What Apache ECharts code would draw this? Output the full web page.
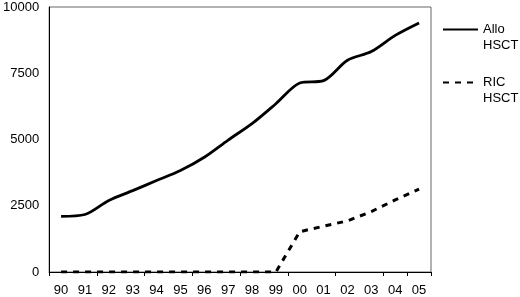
<!DOCTYPE html>
<html>
<head>
<meta charset="utf-8">
<script src="https://cdn.jsdelivr.net/npm/echarts@6/dist/echarts.min.js"></script>
<style>
  html, body { margin: 0; padding: 0; background: #fff; }
  #chart { width: 520px; height: 297px; }
</style>
</head>
<body>
<div id="chart"></div>
<script>
// years on the x axis
const years = ["90", "91", "92", "93", "94", "95", "96", "97", "98", "99", "00", "01", "02", "03", "04", "05"];
// cumulative transplants
const alloHsct = [2100, 2170, 2700, 3070, 3450, 3830, 4330, 4980, 5600, 6350, 7130, 7220, 7990, 8320, 8930, 9400];
const ricHsct = [0, 0, 0, 0, 0, 0, 0, 0, 0, 0, 1520, 1730, 1930, 2280, 2720, 3130];
const yTicks = [0, 2500, 5000, 7500, 10000];

const chart = echarts.init(document.getElementById("chart"));
const font = "Liberation Sans";

const options = {
    animation: false,
    textStyle: { fontFamily: font },
    grid: {
        left: 45,
        right: 89,
        top: 7,
        bottom: 25,
        show: true,
        borderColor: "#666",
        borderWidth: 1
    },
    legend: {
        orient: "vertical",
        left: 442,
        top: 23,
        padding: 0,
        itemWidth: 35,
        itemHeight: 3,
        itemGap: 24,
        itemStyle: { opacity: 0 },
        // two-line names; top padding keeps the sample level with the first line
        formatter: (name) => "{t|" + name.split(" ").join("}\n{t|") + "}",
        textStyle: {
            color: "#000",
            padding: [16, 0, 0, 0],
            rich: { t: { fontSize: 13, lineHeight: 16, color: "#000", fontFamily: font } }
        },
        data: ["Allo HSCT", "RIC HSCT"]
    },
    xAxis: {
        type: "category",
        boundaryGap: true,
        data: years,
        axisLine: { lineStyle: { color: "#000", width: 1 } },
        axisTick: { show: true, interval: 1, length: 4, lineStyle: { color: "#000" } },
        axisLabel: { interval: 0, fontSize: 13, color: "#000", margin: 12, fontFamily: font }
    },
    yAxis: {
        type: "value",
        min: yTicks[0],
        max: yTicks[yTicks.length - 1],
        interval: 2500,
        axisLine: { show: true, lineStyle: { color: "#000", width: 1 } },
        axisTick: { show: false },
        splitLine: { show: false },
        axisLabel: {
            fontSize: 13,
            color: "#000",
            margin: 10,
            fontFamily: font,
            formatter: (v) => String(v)
        }
    },
    series: [
        {
            name: "Allo HSCT",
            type: "line",
            data: alloHsct,
            smooth: 0.3,
            symbol: "none",
            lineStyle: { color: "#000", width: 2.8, type: "solid" },
            itemStyle: { color: "#000" }
        },
        {
            name: "RIC HSCT",
            type: "line",
            data: ricHsct,
            symbol: "none",
            lineStyle: { color: "#000", width: 3, type: [6, 6] },
            itemStyle: { color: "#000" }
        }
    ]
};

chart.setOption(options);
</script>
</body>
</html>
